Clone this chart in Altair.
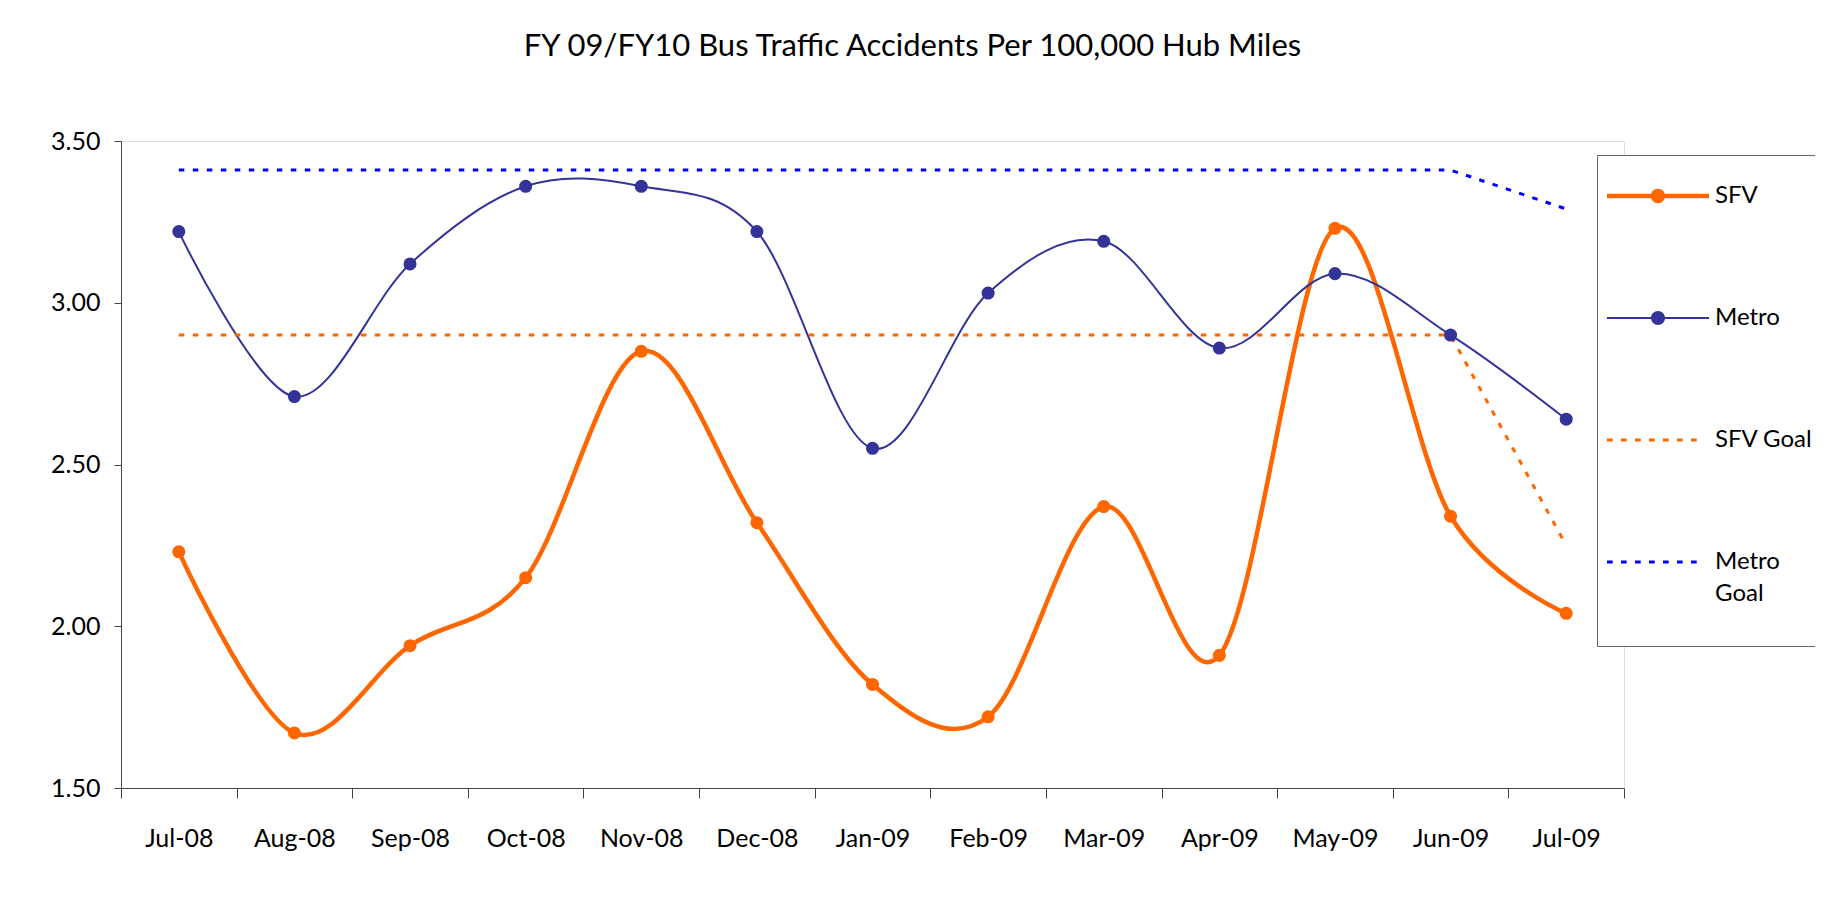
import altair as alt
import pandas as pd

# ---------------- data ----------------
months = ["Jul-08", "Aug-08", "Sep-08", "Oct-08", "Nov-08", "Dec-08", "Jan-09",
          "Feb-09", "Mar-09", "Apr-09", "May-09", "Jun-09", "Jul-09"]
sfv = [2.23, 1.67, 1.94, 2.15, 2.85, 2.32, 1.82, 1.72, 2.37, 1.91, 3.23, 2.34, 2.04]
metro = [3.22, 2.71, 3.12, 3.36, 3.36, 3.22, 2.55, 3.03, 3.19, 2.86, 3.09, 2.90, 2.64]
sfv_goal = [2.90, 2.90, 2.90, 2.90, 2.90, 2.90, 2.90, 2.90, 2.90, 2.90, 2.90, 2.90, 2.25]
metro_goal = [3.41, 3.41, 3.41, 3.41, 3.41, 3.41, 3.41, 3.41, 3.41, 3.41, 3.41, 3.41, 3.29]
y_ticks = [1.50, 2.00, 2.50, 3.00, 3.50]

series_names = ["SFV", "Metro", "SFV Goal", "Metro Goal"]
series_values = [sfv, metro, sfv_goal, metro_goal]

rows = []
for name, vals in zip(series_names, series_values):
    for m, v in zip(months, vals):
        rows.append({"month": m, "value": v, "series": name})
df = pd.DataFrame(rows)

# ---------------- styles ----------------
FONT = "Lato"
ORANGE = "#FF6600"
NAVY = "#333399"
BLUE = "#0000FF"
colors = {"SFV": ORANGE, "Metro": NAVY, "SFV Goal": ORANGE, "Metro Goal": BLUE}
widths = {"SFV": 4.5, "Metro": 2.0, "SFV Goal": 3.0, "Metro Goal": 3.0}
DASH = [5.5, 8.5]

x_enc = alt.X(
    "month:N", sort=months,
    scale=alt.Scale(type="band", paddingInner=0, paddingOuter=0),
    axis=alt.Axis(title=None, tickBand="extent", labelAngle=0, labelFont=FONT,
                  labelFontSize=25, labelColor="black", labelPadding=28,
                  tickSize=10, tickColor="#444444", domainColor="#444444",
                  grid=False),
)
y_enc = alt.Y(
    "value:Q",
    scale=alt.Scale(domain=[1.5, 3.5], nice=False, zero=False),
    axis=alt.Axis(title=None, values=y_ticks, format=".2f", labelFont=FONT,
                  labelFontSize=25, labelColor="black", labelPadding=14,
                  tickSize=7, tickColor="#444444", domainColor="#444444",
                  grid=False),
)

base = alt.Chart(df)


def line_layer(name, dashed, interp):
    kw = dict(interpolate=interp, color=colors[name], strokeWidth=widths[name])
    if dashed:
        kw["strokeDash"] = DASH
    return base.transform_filter(alt.datum.series == name).mark_line(**kw).encode(x=x_enc, y=y_enc)


def point_layer(name):
    return base.transform_filter(alt.datum.series == name).mark_circle(
        size=170, color=colors[name], opacity=1
    ).encode(x=x_enc, y=y_enc)


# legend symbol paths (unit = half of sqrt(symbolSize))
def solid_with_dot(h, r):
    cx = 4.1
    return (f"M-1,{-h}L9.2,{-h}L9.2,{h}L-1,{h}Z"
            f"M{cx - r},0A{r},{r} 0 1,1 {cx + r},0A{r},{r} 0 1,1 {cx - r},0Z")


def dashed(h):
    parts = []
    start = -1.0
    for _ in range(7):
        parts.append(f"M{start:.3f},{-h}L{start + 0.57:.3f},{-h}L{start + 0.57:.3f},{h}L{start:.3f},{h}Z")
        start += 1.4
    return "".join(parts)


legend_shapes = [solid_with_dot(0.225, 0.72), solid_with_dot(0.1, 0.7), dashed(0.15), dashed(0.15)]

legend_layer = base.transform_filter("false").mark_point(filled=True, opacity=1, strokeWidth=0).encode(
    color=alt.Color(
        "series:N",
        scale=alt.Scale(domain=series_names, range=[colors[n] for n in series_names]),
        legend=alt.Legend(
            title=" ", titleFontSize=12, titlePadding=9,
            orient="none", legendX=1476, legendY=14,
            symbolSize=400, labelOffset=86, labelFont=FONT, labelFontSize=24,
            labelColor="black", padding=8, rowPadding=98, strokeColor="#666666",
            fillColor="white", symbolStrokeWidth=0, labelLimit=400,
            labelExpr="datum.label == 'Metro Goal' ? ['Metro', 'Goal', ' '] : datum.label",
        ),
    ),
    shape=alt.Shape("series:N", scale=alt.Scale(domain=series_names, range=legend_shapes)),
)

chart = alt.layer(
    line_layer("SFV", False, "cardinal"),
    line_layer("Metro", False, "cardinal"),
    line_layer("SFV Goal", True, "linear"),
    line_layer("Metro Goal", True, "linear"),
    point_layer("SFV"),
    point_layer("Metro"),
    legend_layer,
).properties(
    width=1503,
    height=647,
    autosize=alt.AutoSizeParams(type="none"),
    padding={"left": 113, "top": 133, "right": 191, "bottom": 95},
    title=alt.TitleParams(
        "FY 09/FY10 Bus Traffic Accidents Per 100,000 Hub Miles",
        font=FONT, fontSize=31, fontWeight="normal", color="black",
        anchor="middle", frame="group", dx=40, offset=66,
    ),
).configure_view(stroke=None).configure(
    background="white", style={"guide-label": {"lineHeight": 32}}
)

chart.save("out.html", embed_options={"renderer": "svg", "actions": False})
